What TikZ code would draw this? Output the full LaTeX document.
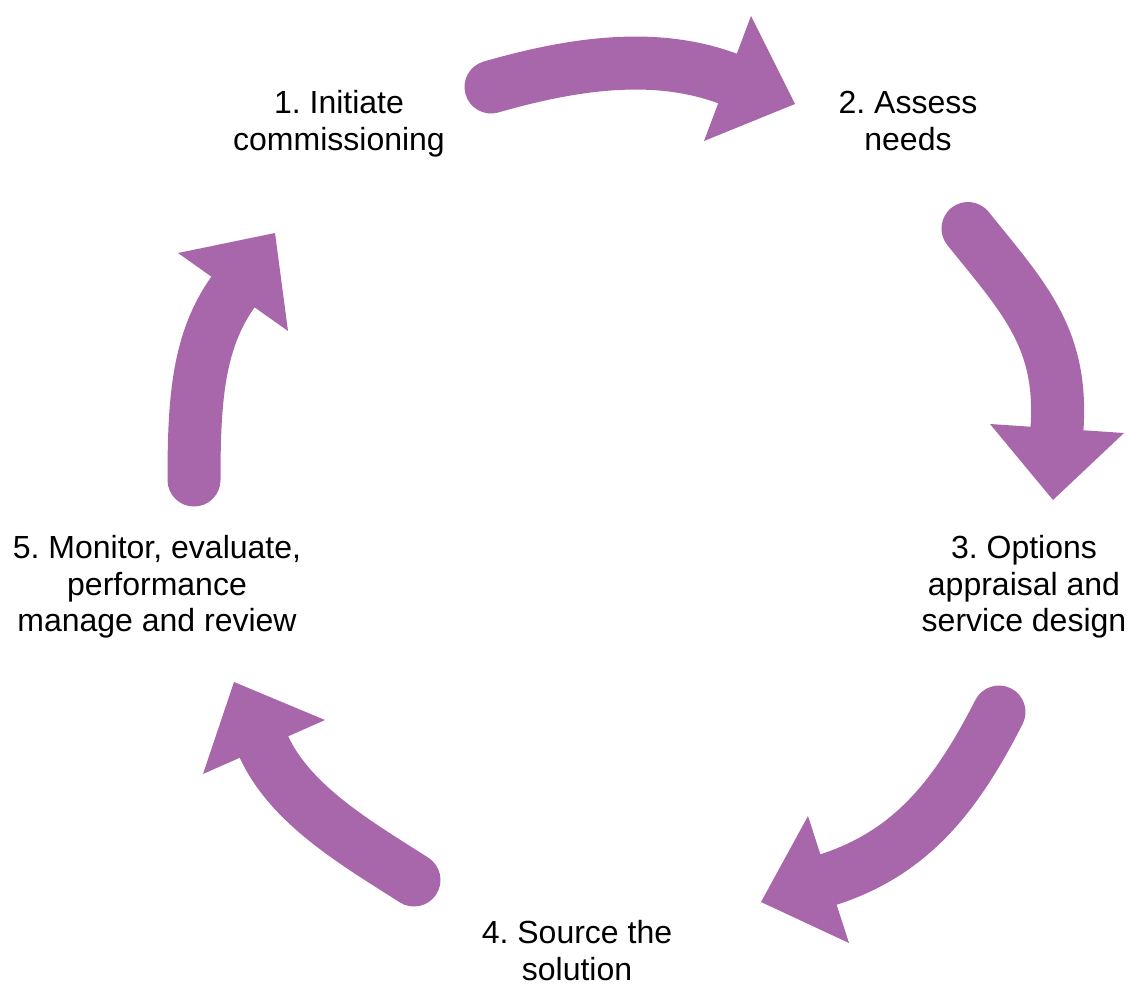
\documentclass[tikz,border=0pt]{standalone}
\usepackage{fontspec}
\setmainfont{Liberation Sans}
\frenchspacing
\definecolor{cyclepurple}{RGB}{168,103,170}
\begin{document}
\begin{tikzpicture}[x=1pt,y=-1pt,
  shaft/.style={draw=cyclepurple,line width=53pt,line cap=round},
  head/.style={fill=cyclepurple,draw=none},
  lbl/.style={font=\fontsize{32}{36.7}\selectfont\frenchspacing,align=center,inner sep=0pt,anchor=north,text=black}]
\useasboundingbox (0,0) rectangle (1130,985);
% labels
\node[lbl] (n1) at (339,87.5) {\strut 1. Initiate\\\strut commissioning};
\node[lbl] (n2) at (908,87.5) {\strut 2. Assess\\\strut needs};
\node[lbl] (n3) at (1024,532.5) {\strut 3. Options\\\strut appraisal and\\\strut service design};
\node[lbl] (n4) at (577,918) {\strut 4. Source the\\solution};
\node[lbl] (n5) at (157,532.5) {\strut 5. Monitor, evaluate,\\\strut performance\\\strut manage and review};
% arrow 1 -> 2
\draw[shaft] (491,87) .. controls (568,65) and (652,50.5) .. (727.5,78.5);
\fill[head] (751,16) -- (795,104) -- (704,141) -- cycle;
% arrow 2 -> 3
\draw[shaft] (968,228.5) .. controls (1024,298) and (1063,338) .. (1057,428.5);
\fill[head] (990,424) -- (1053,500) -- (1124,433) -- cycle;
% arrow 3 -> 4
\draw[shaft] (999,712) .. controls (958,792) and (914,852) .. (828.5,879.5);
\fill[head] (808,816) -- (761,902) -- (849,943) -- cycle;
% arrow 4 -> 5
\draw[shaft] (414,880) .. controls (359.4,844.9) and (291.3,806.2) .. (264,747);
\fill[head] (234,682) -- (325,720) -- (203,774) -- cycle;
% arrow 5 -> 1
\draw[shaft] (194,480) .. controls (194,400) and (198,341) .. (233,292);
\fill[head] (178,253) -- (275,233) -- (288,331) -- cycle;
\end{tikzpicture}
\end{document}
